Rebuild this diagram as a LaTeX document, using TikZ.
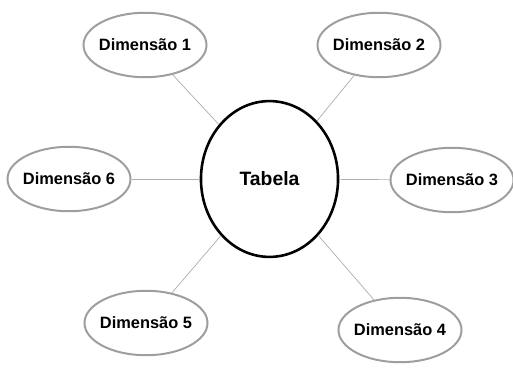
\documentclass[tikz,border=0pt]{standalone}
\usepackage{fontspec}
\setmainfont{Liberation Sans}
\usepackage{tikz}
\usetikzlibrary{positioning,shapes.geometric}
\definecolor{rim}{gray}{0.62}
\definecolor{wire}{gray}{0.68}
\tikzstyle{dim} = [draw=rim, line width=1.7pt, ellipse, inner xsep=-4pt, inner ysep=0pt, minimum width=105pt, minimum height=55pt, font=\fontsize{14}{16}\selectfont\bfseries]
\tikzstyle{tab} = [draw, line width=2.2pt, ellipse, minimum width=117pt, minimum height=133pt, font=\fontsize{16.5}{19}\selectfont\bfseries]
\tikzstyle{link} = [draw=wire, line width=0.6pt]

\begin{document}
\begin{tikzpicture}[x=0.03cm, y=-0.03cm]
		\useasboundingbox (0,0) rectangle (513,367);
		\node (t) [tab] at (269.5,179) {Tabela};
		\node (d1) [dim] at (145,45) {Dimensão 1};
		\node (d2) [dim] at (379,45) {Dimensão 2};
		\node (d3) [dim] at (452,180) {Dimensão 3};
		\node (d4) [dim] at (400,330) {Dimensão 4};
		\node (d5) [dim] at (146,323) {Dimensão 5};
		\node (d6) [dim] at (69,179) {Dimensão 6};
		%
		\draw[link] (d1) -- (t);
		\draw[link] (d2) -- (t);
		\draw[link] (d3) -- (t);
		\draw[link] (d4) -- (t);
		\draw[link] (d5) -- (t);
		\draw[link] (d6) -- (t);
\end{tikzpicture}
\end{document}
